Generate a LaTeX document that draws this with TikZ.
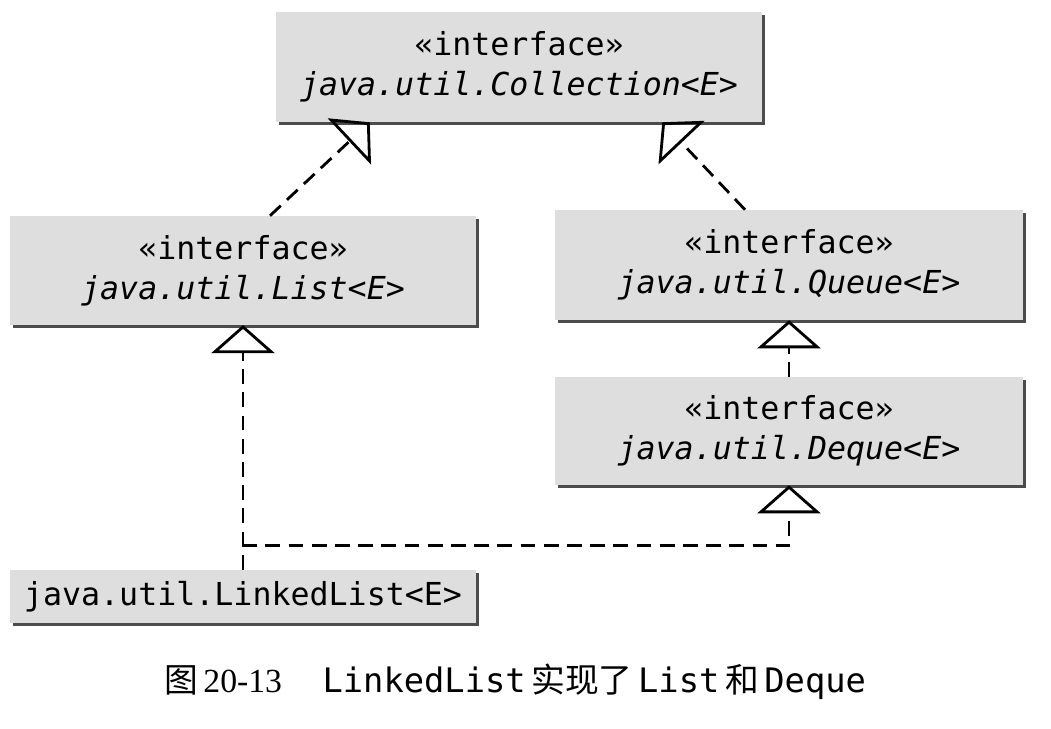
\documentclass[tikz,border=0pt]{standalone}
\usepackage{fontspec}
\setmainfont{Liberation Serif}
\setmonofont{DejaVu Sans Mono}
\newfontfamily\cjk{Noto Sans CJK SC}
\usetikzlibrary{arrows.meta,shadows}
\begin{document}
\begin{tikzpicture}[
                iface/.style={rectangle, fill=black!13, minimum width=11.65cm, minimum height=2.72cm, inner sep=0pt, align=center,
                  font=\fontsize{22.5}{28.5}\selectfont\ttfamily,
                  drop shadow={shadow xshift=2pt, shadow yshift=-2pt, fill=black!70, opacity=1}},
                cls/.style={iface, minimum height=1.33cm},
                impl/.style={-{Triangle[open, length=0.7cm, width=1.575cm, line width=2pt]}, line width=2pt, dash pattern=on 10.5pt off 6pt}]

                \useasboundingbox[fill=white] (0,0) rectangle (26.275,-18.2);

                \node[iface, minimum width=12.15cm, minimum height=2.75cm] (coll) at (12.975,-1.675) {«interface»\\\textit{java.util.Collection<E>}};

                \node[iface] (list) at (6.075,-6.76) {«interface»\\\textit{java.util.List<E>}};
                \node[iface, minimum width=11.7cm, minimum height=2.75cm] (queue) at (19.725,-6.625) {«interface»\\\textit{java.util.Queue<E>}};
                \node[iface, minimum width=11.7cm, minimum height=2.7cm] (deque) at (19.725,-10.775) {«interface»\\\textit{java.util.Deque<E>}};

                \node[cls] (linked) at (6.075,-14.91) {java.util.LinkedList<E>};

                \draw[impl] ([xshift=0.675cm]list.north) -- ([xshift=2.35cm]coll.south west);
                \draw[impl] ([xshift=-1.1cm]queue.north) -- ([xshift=-2.5cm]coll.south east);
                \draw[impl] (deque.north) -- (queue.south);
                \draw[impl] (linked.north) -- (list.south);
                \draw[impl] (linked.north) -- ++(0,0.6) -| (deque.south);

                \node[font=\fontsize{24}{29}\selectfont] (cap) at (12.875,-17.05) {{\cjk 图}\,20-13\hspace{1.2em}{\ttfamily LinkedList}\,{\cjk 实现了}\,{\ttfamily List}\,{\cjk 和}\,{\ttfamily Deque}};
\end{tikzpicture}
\end{document}
